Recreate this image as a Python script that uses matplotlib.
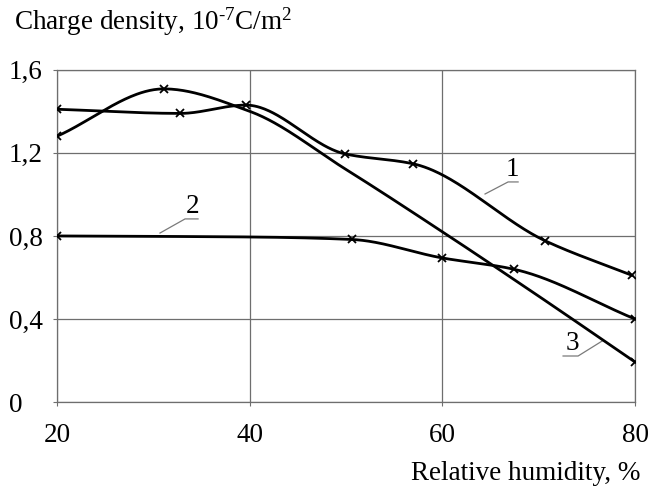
import numpy as np
import matplotlib
matplotlib.use("Agg")
import matplotlib.pyplot as plt

plt.rcParams["font.family"] = ["Liberation Serif", "DejaVu Serif"]
plt.rcParams["mathtext.fontset"] = "custom"
plt.rcParams["mathtext.rm"] = "Liberation Serif"
plt.rcParams["mathtext.it"] = "Liberation Serif:italic"

# Curve 1
x1 = [20.0, 32.8, 39.6, 49.9, 57.0, 70.7, 79.7]
y1 = [1.41, 1.39, 1.43, 1.195, 1.147, 0.776, 0.61]
m1 = [0, 1, 2, 3, 4, 5, 6]

# Curve 2
x2 = [20.0, 40.0, 50.6, 60.0, 67.4, 80.0]
y2 = [0.80, 0.795, 0.783, 0.694, 0.64, 0.40]
m2 = [0, 2, 3, 4, 5]

# Curve 3
x3 = [20.0, 31.1, 40.0, 50.0, 60.0, 70.0, 80.0]
y3 = [1.28, 1.508, 1.40, 1.12, 0.82, 0.51, 0.193]
m3 = [0, 1, 6]

x_ticks = [20, 40, 60, 80]
y_ticks = [0, 0.4, 0.8, 1.2, 1.6]
y_ticklabels = ["0", "0,4", "0,8", "1,2", "1,6"]

FS = 19.5


def pchip(x, y, xs):
    x = np.asarray(x, float)
    y = np.asarray(y, float)
    h = np.diff(x)
    d = np.diff(y) / h
    n = len(x)
    m = np.zeros(n)
    for k in range(1, n - 1):
        if d[k - 1] * d[k] > 0:
            w1 = 2 * h[k] + h[k - 1]
            w2 = h[k] + 2 * h[k - 1]
            m[k] = (w1 + w2) / (w1 / d[k - 1] + w2 / d[k])
    m[0] = d[0]
    m[-1] = d[-1]
    out = np.empty_like(xs)
    idx = np.clip(np.searchsorted(x, xs) - 1, 0, n - 2)
    for j, (xv, i) in enumerate(zip(xs, idx)):
        t = (xv - x[i]) / h[i]
        h00 = 2 * t**3 - 3 * t**2 + 1
        h10 = t**3 - 2 * t**2 + t
        h01 = -2 * t**3 + 3 * t**2
        h11 = t**3 - t**2
        out[j] = h00 * y[i] + h10 * h[i] * m[i] + h01 * y[i + 1] + h11 * h[i] * m[i + 1]
    return out


fig = plt.figure(figsize=(6.5, 4.88), dpi=100)
ax = fig.add_axes([0.0877, 0.176, 0.8893, 0.681])

for xs_, ys_, mk in [(x1, y1, m1), (x2, y2, m2), (x3, y3, m3)]:
    xx = np.linspace(xs_[0], xs_[-1], 400)
    ax.plot(xx, pchip(xs_, ys_, xx), color="black", lw=2.0, zorder=3,
            solid_capstyle="round")
    ax.plot([xs_[i] for i in mk], [ys_[i] for i in mk], ls="none",
            marker="x", ms=5.5, mew=1.3, color="black", zorder=4)

ax.set_xlim(20, 80)
ax.set_ylim(0, 1.6)
ax.set_xticks(x_ticks)
ax.set_yticks(y_ticks)
ax.set_yticklabels(y_ticklabels, ha="left")
ax.grid(True, color="#6e6e6e", lw=0.9)
for s in ax.spines.values():
    s.set_color("#6e6e6e")
    s.set_linewidth(0.9)
ax.tick_params(axis="both", length=3, color="#6e6e6e", labelsize=FS)
ax.tick_params(axis="x", pad=12)
ax.tick_params(axis="y", pad=31.5)

# curve labels with leader lines
lc = "#7a7a7a"
ax.plot([64.43, 66.82, 67.86], [1.002, 1.060, 1.060], color=lc, lw=0.9)
ax.text(67.3, 1.118, "1", ha="center", va="center", fontsize=FS)
ax.plot([30.69, 33.29, 34.64], [0.814, 0.882, 0.882], color=lc, lw=0.9)
ax.text(34.12, 0.940, "2", ha="center", va="center", fontsize=FS)
ax.plot([76.58, 74.09, 72.53], [0.294, 0.222, 0.222], color=lc, lw=0.9)
ax.text(73.46, 0.284, "3", ha="center", va="center", fontsize=FS)

fig.text(14 / 650, 1 - 22 / 488,
         r"Charge density, 10$^{\text{-}\mathregular{7}}$C/m$^{\mathregular{2}}$",
         ha="left", va="center", fontsize=FS)
fig.text(640 / 650, 1 - 473 / 488, "Relative humidity, %", ha="right",
         va="center", fontsize=FS)

fig.savefig("out.png", dpi=100)
